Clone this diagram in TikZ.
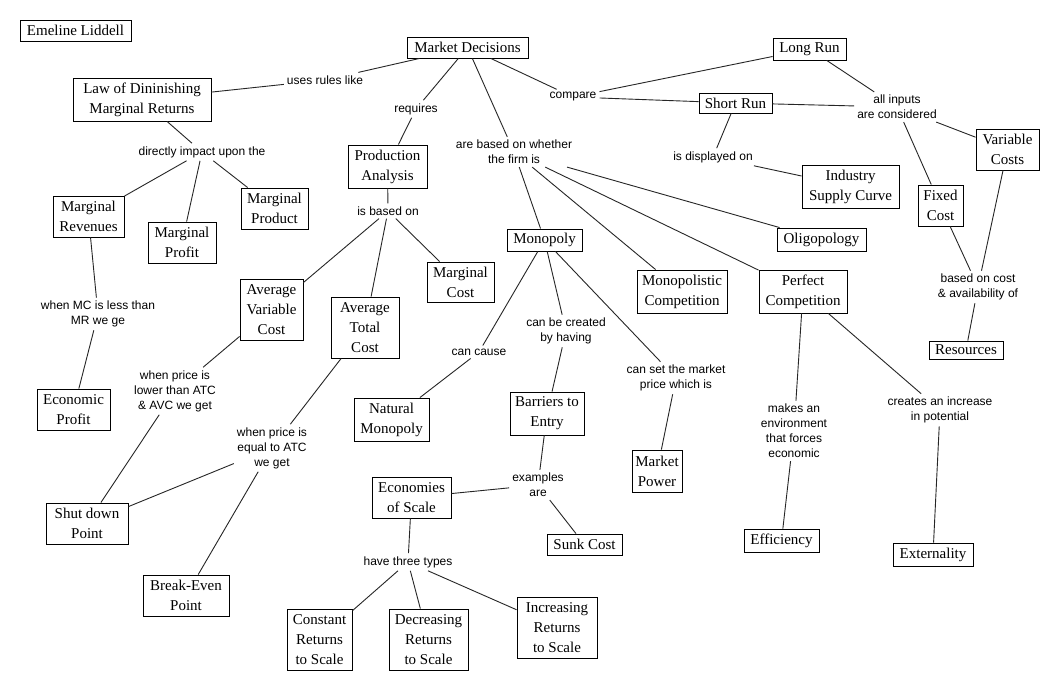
\documentclass[tikz,border=0pt]{standalone}
\usepackage{fontspec}
\setmainfont{Liberation Serif}
\newfontfamily\lserif{Liberation Serif}
\newfontfamily\lsans{Liberation Sans}
\begin{document}
\begin{tikzpicture}[x=1pt,y=-1pt,
  box/.style={draw=black, line width=0.9pt, align=center, inner sep=0pt,
    font=\lserif\fontsize{15}{20}\selectfont},
  lbl/.style={align=center, inner sep=3pt, font=\lsans\fontsize{12}{15}\selectfont},
  conn/.style={draw=black!85, line width=0.9pt}]
\useasboundingbox[fill=white] (0,0) rectangle (1060,692);
% concept boxes
\node[box, minimum width=111, minimum height=21] (emel) at (75.5,30.5) {Emeline Liddell};
\node[box, minimum width=121, minimum height=21] (md) at (467.5,47.5) {Market Decisions};
\node[box, minimum width=138, minimum height=43] (law) at (142,99.5) {Law of Dininishing\\Marginal Returns};
\node[box, minimum width=79, minimum height=43] (pa) at (387.5,166.5) {Production\\Analysis};
\node[box, minimum width=73, minimum height=22] (lr) at (809.5,49) {Long Run};
\node[box, minimum width=73, minimum height=20] (sr) at (735.5,103) {Short Run};
\node[box, minimum width=63, minimum height=41] (vc) at (1007.5,149.5) {Variable\\Costs};
\node[box, minimum width=45, minimum height=41] (fc) at (940.5,205.5) {Fixed\\Cost};
\node[box, minimum width=97, minimum height=43] (isc) at (850.5,186.5) {Industry\\Supply Curve};
\node[box, minimum width=71, minimum height=41] (mr) at (88.5,216.5) {Marginal\\Revenues};
\node[box, minimum width=68, minimum height=41] (mp) at (182,242.5) {Marginal\\Profit};
\node[box, minimum width=67, minimum height=41] (mprod) at (274.5,208.5) {Marginal\\Product};
\node[box, minimum width=73, minimum height=41] (ep) at (73.5,409.5) {Economic\\Profit};
\node[box, minimum width=63, minimum height=61] (avc) at (271.5,309.5) {Average\\Variable\\Cost};
\node[box, minimum width=68, minimum height=61] (atc) at (365,327.5) {Average\\Total\\Cost};
\node[box, minimum width=67, minimum height=40] (mc) at (460.5,282) {Marginal\\Cost};
\node[box, minimum width=82, minimum height=41] (sdp) at (87,523.5) {Shut down\\Point};
\node[box, minimum width=86, minimum height=41] (bep) at (186,595.5) {Break-Even\\Point};
\node[box, minimum width=75, minimum height=22] (mono) at (544.5,240) {Monopoly};
\node[box, minimum width=90, minimum height=43] (mcomp) at (682,291.5) {Monopolistic\\Competition};
\node[box, minimum width=88, minimum height=43] (pc) at (803,291.5) {Perfect\\Competition};
\node[box, minimum width=89, minimum height=23] (olig) at (821.5,239.5) {Oligopology};
\node[box, minimum width=75, minimum height=43] (nm) at (391.5,419.5) {Natural\\Monopoly};
\node[box, minimum width=74, minimum height=43] (bte) at (547,413.5) {Barriers to\\Entry};
\node[box, minimum width=50, minimum height=42] (mpow) at (657,471) {Market\\Power};
\node[box, minimum width=79, minimum height=41] (eos) at (411.5,497.5) {Economies\\of Scale};
\node[box, minimum width=75, minimum height=21] (sunk) at (584.5,544.5) {Sunk Cost};
\node[box, minimum width=65, minimum height=61] (crs) at (319.5,639.5) {Constant\\Returns\\to Scale};
\node[box, minimum width=79, minimum height=61] (drs) at (428.5,639.5) {Decreasing\\Returns\\to Scale};
\node[box, minimum width=80, minimum height=61] (irs) at (557,627.5) {Increasing\\Returns\\to Scale};
\node[box, minimum width=75, minimum height=23] (eff) at (781.5,540.5) {Efficiency};
\node[box, minimum width=80, minimum height=23] (ext) at (933,554.5) {Externality};
\node[box, minimum width=74, minimum height=18] (res) at (966,350) {Resources};
% linking phrases
\node[lbl] (luses) at (325,80) {uses rules like};
\node[lbl] (lreq) at (416,109) {requires};
\node[lbl] (lisb) at (388,211) {is based on};
\node[lbl] (labo) at (514,152) {are based on whether\\the firm is};
\node[lbl] (lcmp) at (573,97) {compare};
\node[lbl] (lall) at (897,107) {all inputs\\are considered};
\node[lbl] (ldisp) at (713,157) {is displayed on};
\node[lbl] (ldir) at (202,152) {directly impact upon the};
\node[lbl] (lmcl) at (98,314) {when MC is less than\\MR we ge};
\node[lbl] (llow) at (175,391) {when price is\\lower than ATC\\\& AVC we get};
\node[lbl] (leq) at (272,448) {when price is\\equal to ATC\\we get};
\node[lbl] (lcause) at (479,352) {can cause};
\node[lbl] (lcreated) at (566,331) {can be created\\by having};
\node[lbl] (lset) at (676,378) {can set the market\\price which is};
\node[lbl] (lex) at (538,485) {examples\\are};
\node[lbl] (lthree) at (408,562) {have three types};
\node[lbl] (lmakes) at (794,431) {makes an\\environment\\that forces\\economic};
\node[lbl] (lcreates) at (940,410) {creates an increase\\in potential};
\node[lbl] (lbased) at (978,287) {based on cost\\\& availability of};
% connectors
\foreach \a/\b in {law/luses, luses/md, md/lreq, lreq/pa, md/labo, md/lcmp,
  lcmp/lr, lcmp/sr, lr/lall, sr/lall, lall/vc, lall/fc, sr/ldisp, ldisp/isc,
  law/ldir, ldir/mr, ldir/mp, ldir/mprod, mr/lmcl, lmcl/ep, pa/lisb,
  lisb/avc, lisb/atc, lisb/mc, avc/llow, llow/sdp, atc/leq, leq/sdp, leq/bep,
  labo/mono, labo/mcomp, labo/pc, labo/olig, mono/lcause, lcause/nm,
  mono/lcreated, lcreated/bte, mono/lset, lset/mpow, bte/lex, lex/eos,
  lex/sunk, eos/lthree, lthree/crs, lthree/drs, lthree/irs, pc/lmakes,
  lmakes/eff, pc/lcreates, lcreates/ext, fc/lbased, vc/lbased, lbased/res}
  \draw[conn] (\a) -- (\b);
\end{tikzpicture}
\end{document}
